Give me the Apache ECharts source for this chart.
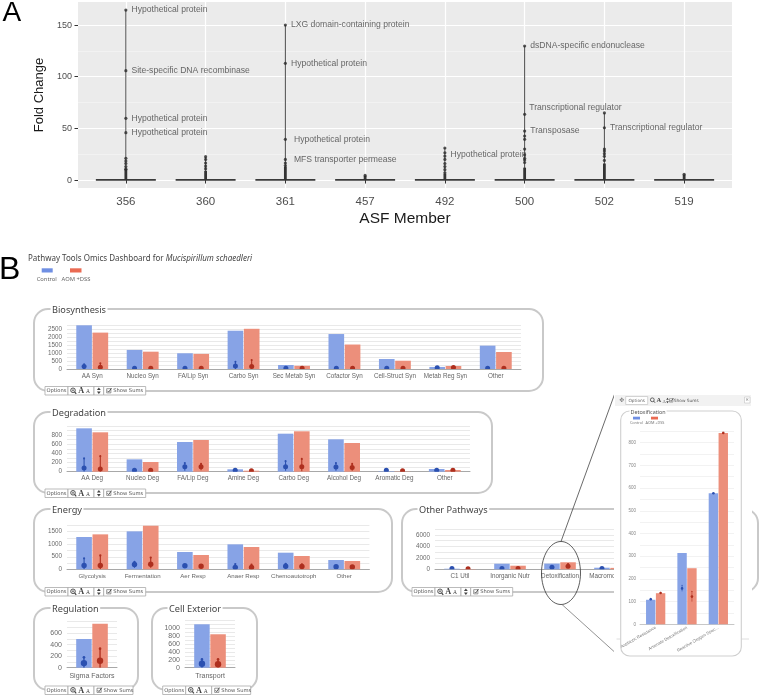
<!DOCTYPE html>
<html>
<head>
<meta charset="utf-8">
<script src="https://cdn.jsdelivr.net/npm/echarts@6.0.0/dist/echarts.min.js"></script>
<style>
html,body{margin:0;padding:0;background:#fff;width:760px;height:697px;overflow:hidden;}
#main{position:absolute;left:0;top:0;width:760px;height:697px;}
#pop{position:absolute;left:614px;top:392px;width:138px;height:266px;background:#fff;}
</style>
</head>
<body>
<div id="main"></div>
<div id="pop"></div>
<script>
// ================= Panel A data =================
const asfMembers = ['356','360','361','457','492','500','502','519'];
const violinMax = [164.5, 22.6, 150, 5, 31, 129.7, 65, 6];
const violinDenseTop = [11, 9, 13, 4, 6, 12, 16, 5];
const outlierPoints = [
  [1,21],[1,18.4],[1,16],[1,13],[1,10.5],
  [2,22.6],[2,20],[2,16.5],[2,13.5],[2,11],
  [3,16.5],[3,14],
  [4,4.5],
  [5,31],[5,26.4],[5,20],[5,16],[5,13],[5,10],[5,7],
  [6,42.6],[6,39.4],[6,30],[6,24.4],[6,21],[6,19.4],[6,17],
  [7,65],[7,30],[7,28],[7,25.5],[7,23],[7,19],
  [8,5.5]
];
const labeledPoints = [
  [1,164.5,'Hypothetical protein'],
  [1,105.8,'Site-specific DNA recombinase'],
  [1,59.7,'Hypothetical protein'],
  [1,45.8,'Hypothetical protein'],
  [3,150,'LXG domain-containing protein'],
  [3,113,'Hypothetical protein'],
  [3,39.4,'Hypothetical protein'],
  [3,20,'MFS transporter permease'],
  [5,23.2,'Hypothetical protein'],
  [6,129.7,'dsDNA-specific endonuclease'],
  [6,63.6,'Transcriptional regulator'],
  [6,47.4,'Transposase'],
  [7,50.6,'Transcriptional regulator']
];
const foldTicks = [0,50,100,150];
const foldMinorTicks = [25,75,125];

// ================= Panel B data =================
const bioCats = ['AA Syn','Nucleo Syn','FA/Lip Syn','Carbo Syn','Sec Metab Syn','Cofactor Syn','Cell-Struct Syn','Metab Reg Syn','Other'];
const bioControl = [2750,1200,990,2410,250,2200,630,130,1470];
const bioAom = [2290,1090,950,2530,200,1540,520,190,1070];
const bioControlDots = [[150,0,300],[50,50,50],[50,50,50],[190,0,460],[50,50,50],[50,50,50],[50,50,50],[80,80,80],[50,50,50]];
const bioAomDots = [[110,0,360],[50,50,50],[50,50,50],[160,0,570],[50,50,50],[50,50,50],[50,50,50],[100,100,100],[50,50,50]];

const degCats = ['AA Deg','Nucleo Deg','FA/Lip Deg','Amine Deg','Carbo Deg','Alcohol Deg','Aromatic Deg','Other'];
const degControl = [947,270,648,52,830,707,10,59];
const degAom = [860,212,692,22,882,627,6,37];
const degControlDots = [[80,0,290],[30,30,30],[110,20,190],[30,30,30],[110,20,230],[100,20,190],[30,30,30],[30,30,30]];
const degAomDots = [[60,0,340],[30,30,30],[110,30,170],[20,20,20],[110,10,280],[90,20,170],[20,20,20],[30,30,30]];

const enCats = ['Glycolysis','Fermentation','Aer Resp','Anaer Resp','Chemoautotroph','Other'];
const enControl = [1287,1513,689,995,662,371];
const enAom = [1393,1737,570,888,530,331];
const enControlDots = [[150,0,440],[190,60,300],[140,140,140],[70,0,210],[120,0,220],[100,100,100]];
const enAomDots = [[150,0,550],[200,60,470],[120,120,120],[70,0,190],[110,0,200],[90,90,90]];

const othCats = ['C1 Util','Inorganic Nutr','Detoxification','Macromol Mod'];
const othControl = [100,980,1000,280];
const othAom = [50,630,1230,250];
const othControlDots = [[150,150,150],[150,150,150],[350,200,500],[150,150,150]];
const othAomDots = [[100,100,100],[150,150,150],[520,200,930],[120,120,120]];

const regCats = ['Sigma Factors'];
const regControl = [497];
const regAom = [761];
const regControlDots = [[80,0,180]];
const regAomDots = [[120,0,330]];

const cellCats = ['Transport'];
const cellControl = [1104];
const cellAom = [850];
const cellControlDots = [[100,0,210]];
const cellAomDots = [[90,0,210]];

const detoxCats = ['Antibiotic Resistance','Arsenate Detoxification','Reactive Oxygen Spec...'];
const detoxControl = [108,314,577];
const detoxAom = [137,247,843];
const detoxControlDots = [[110,106,114],[158,145,172],[577,577,577]];
const detoxAomDots = [[138,135,141],[122,100,145],[843,843,843]];

// ================= styling =================
const FA = 'Liberation Sans, Arial, sans-serif';
const FB = 'Noto Sans, Open Sans, sans-serif';
const CTRL = '#87a3e6', AOM = '#ec8f7b';
const CTRL_SW = '#6f8fe3', AOM_SW = '#ea6b53';
const DOT_C = '#2b50b0', DOT_A = '#ae2f1e';

const grids = [], xAxes = [], yAxes = [], series = [], graphics = [];

// ---------- Panel A ----------
grids.push({left:78, top:2, width:654, height:186, show:true, backgroundColor:'#ebebeb', borderWidth:0, outerBoundsMode:'none'});
const memberPos = asfMembers.map((m,i)=>i+1);
xAxes.push({type:'value', gridIndex:0, min:0.4, max:8.6,
  axisLine:{show:false},
  axisTick:{show:true, customValues:memberPos, length:3.5, lineStyle:{color:'#333', width:1}},
  axisLabel:{show:true, customValues:memberPos, formatter:v=>asfMembers[Math.round(v)-1]||'', fontSize:11.5, color:'#4d4d4d', margin:7.5, fontFamily:FA},
  splitLine:{show:true, lineStyle:{color:'#ffffff', width:1.2}},
  name:'ASF Member', nameLocation:'middle', nameGap:23, nameTextStyle:{fontSize:15.5, color:'#1a1a1a', fontFamily:FA}
});
yAxes.push({type:'value', gridIndex:0, min:-7.7, max:172.3,
  axisLine:{show:false},
  axisTick:{show:true, customValues:foldTicks, length:3.5, lineStyle:{color:'#333', width:1}},
  axisLabel:{show:true, customValues:foldTicks, fontSize:9, color:'#4d4d4d', margin:6, fontFamily:FA},
  splitLine:{show:true, lineStyle:{color:'#ffffff', width:1.2}},
  name:'Fold Change', nameLocation:'middle', nameGap:23, nameTextStyle:{fontSize:13, color:'#1a1a1a', fontFamily:FA}
});
yAxes.push({type:'value', gridIndex:0, min:-7.7, max:172.3,
  axisLine:{show:false},
  axisTick:{show:false, customValues:foldMinorTicks},
  axisLabel:{show:false},
  splitLine:{show:true, lineStyle:{color:'#f7f7f7', width:0.6}}
});

series.push({type:'custom', xAxisIndex:0, yAxisIndex:0, silent:true, z:3,
  data: violinMax.map((m,i)=>[i+1, m, violinDenseTop[i]]),
  renderItem:(params, api)=>{
    const x = api.value(0);
    const p0 = api.coord([x, 0]);
    const pm = api.coord([x, api.value(1)]);
    const pd = api.coord([x, api.value(2)]);
    const b0 = api.coord([x-0.376, 0.9]);
    const b1 = api.coord([x+0.376, -0.7]);
    return {type:'group', children:[
      {type:'rect', shape:{x:b0[0], y:b0[1], width:b1[0]-b0[0], height:b1[1]-b0[1]}, style:{fill:'#3a3a3a'}},
      {type:'line', shape:{x1:p0[0], y1:p0[1], x2:pm[0], y2:pm[1]}, style:{stroke:'#4a4a4a', lineWidth:1}},
      {type:'rect', shape:{x:p0[0]-1.4, y:pd[1], width:2.8, height:p0[1]-pd[1]}, style:{fill:'#333'}}
    ]};
  }
});
series.push({type:'scatter', xAxisIndex:0, yAxisIndex:0, silent:true, z:4,
  data: outlierPoints, symbolSize:3.2, itemStyle:{color:'#2b2b2b'}});
const labelNudge = {6:[3,0], 7:[3,0], 8:[0,-1.8], 10:[-1,-7]};
series.push({type:'scatter', xAxisIndex:0, yAxisIndex:0, silent:true, z:5,
  symbolSize:3.2, itemStyle:{color:'#2b2b2b'},
  data: labeledPoints.map((p,k)=>({value:[p[0],p[1]],
    label:{show:true, position:'right', distance:4, formatter:p[2], offset:labelNudge[k]||[0,0],
      fontSize:8.6, color:'#444', fontFamily:FA}}))
});

// ---------- Panel B helpers ----------
function dotSeries(xi, yi, dots, side, color, offFrac, r){
  return {type:'custom', xAxisIndex:xi, yAxisIndex:yi, silent:true, z:5, clip:true,
    data: dots.map((d,i)=>[i, d[0], d[1], d[2]]),
    renderItem:(params, api)=>{
      const ci = api.value(0);
      const band = api.size([1,0])[0];
      const off = side*band*offFrac;
      const pm = api.coord([ci, api.value(1)]);
      const pl = api.coord([ci, api.value(2)]);
      const ph = api.coord([ci, api.value(3)]);
      const x = pm[0]+off;
      const ch = [];
      if (api.value(3) > api.value(1) || api.value(2) < api.value(1)) {
        ch.push({type:'line', shape:{x1:x, y1:pl[1], x2:x, y2:ph[1]}, style:{stroke:color, lineWidth:Math.max(0.6, r*0.42)}});
      }
      if (api.value(3) > api.value(1)) {
        ch.push({type:'circle', shape:{cx:x, cy:ph[1], r:r*0.42}, style:{fill:color}});
      }
      ch.push({type:'circle', shape:{cx:x, cy:pm[1], r:r}, style:{fill:color}});
      return {type:'group', children:ch};
    }
  };
}

function addPanel(p){
  const gi = grids.length;
  grids.push(Object.assign({show:false, outerBoundsMode:'none'}, p.grid));
  const xi = xAxes.length;
  xAxes.push({type:'category', gridIndex:gi, data:p.cats,
    axisLine:{show:true, lineStyle:{color:'#a8a8a8', width:1}},
    axisTick:{show:false},
    axisLabel:{fontSize:p.catFont, color:'#666', margin:p.catMargin||4, fontFamily:FA, interval:0},
    splitLine:{show:false}});
  const yi = yAxes.length;
  yAxes.push({type:'value', gridIndex:gi, min:0, max:p.max, interval:p.interval,
    axisLine:{show:false}, axisTick:{show:false},
    axisLabel:{fontSize:p.tickFont, color:'#6a6a6a', margin:5, fontFamily:FA,
      formatter:v=>(Math.abs(v % p.labelStep) < 1e-6 && v <= p.labelMax) ? String(v) : ''},
    splitLine:{show:true, lineStyle:{color:'#e3e3e3', width:0.8}}});
  series.push({type:'bar', name:'Control', xAxisIndex:xi, yAxisIndex:yi, data:p.ctrl,
    barWidth:'31%', barGap:'4%', itemStyle:{color:CTRL}, silent:true, z:2});
  series.push({type:'bar', name:'AOM +DSS', xAxisIndex:xi, yAxisIndex:yi, data:p.aom,
    barWidth:'31%', barGap:'4%', itemStyle:{color:AOM}, silent:true, z:2});
  series.push(dotSeries(xi, yi, p.ctrlDots, -1, DOT_C, 0.161, p.dotR));
  series.push(dotSeries(xi, yi, p.aomDots, 1, DOT_A, 0.161, p.dotR));
}

addPanel({cats:bioCats, ctrl:bioControl, aom:bioAom, ctrlDots:bioControlDots, aomDots:bioAomDots,
  grid:{left:67, top:325.3, width:454, height:43.7}, max:2750, interval:250, labelStep:500, labelMax:2500,
  tickFont:6.3, catFont:6.3, dotR:2.5});
addPanel({cats:degCats, ctrl:degControl, aom:degAom, ctrlDots:degControlDots, aomDots:degAomDots,
  grid:{left:67, top:425.9, width:403, height:45.8}, max:1000, interval:100, labelStep:200, labelMax:800,
  tickFont:6.3, catFont:6.3, dotR:2.5});
addPanel({cats:enCats, ctrl:enControl, aom:enAom, ctrlDots:enControlDots, aomDots:enAomDots,
  grid:{left:67, top:525.4, width:302.4, height:43.9}, max:1750, interval:250, labelStep:500, labelMax:1500,
  tickFont:6.3, catFont:6.1, dotR:2.7});
addPanel({cats:othCats, ctrl:othControl, aom:othAom, ctrlDots:othControlDots, aomDots:othAomDots,
  grid:{left:435, top:529.3, width:200, height:40}, max:7000, interval:1000, labelStep:2000, labelMax:6000,
  tickFont:6.3, catFont:6.3, dotR:2.5});
addPanel({cats:regCats, ctrl:regControl, aom:regAom, ctrlDots:regControlDots, aomDots:regAomDots,
  grid:{left:67, top:621.5, width:50, height:46.2}, max:800, interval:100, labelStep:200, labelMax:600,
  tickFont:7, catFont:7, catMargin:5, dotR:3.2});
addPanel({cats:cellCats, ctrl:cellControl, aom:cellAom, ctrlDots:cellControlDots, aomDots:cellAomDots,
  grid:{left:185, top:620.5, width:50, height:47.2}, max:1200, interval:100, labelStep:200, labelMax:1000,
  tickFont:7, catFont:7, catMargin:5, dotR:3.2});

// ---------- graphics ----------
function txt(x, y, text, size, fill, extra){
  return Object.assign({type:'text', x:x, y:y, z:6,
    style:Object.assign({text:text, fontSize:size, fill:fill, fontFamily:FB, verticalAlign:'middle', align:'left'}, (extra&&extra.style)||{})},
    extra&&extra.z!==undefined?{z:extra.z}:{});
}
graphics.push(txt(2.5, 13.5, 'A', 28, '#000', {style:{fontFamily:FA}}));
graphics.push(txt(-1, 270, 'B', 32, '#000', {style:{fontFamily:FA}}));
graphics.push({type:'text', x:28, y:259, z:6, style:{
  text:'{n|Pathway Tools Omics Dashboard for }{i|Mucispirillum schaedleri}',
  verticalAlign:'middle', rich:{n:{fontSize:8, fill:'#444', fontFamily:FB}, i:{fontSize:8, fill:'#444', fontFamily:FB, fontStyle:'italic'}}}});
graphics.push({type:'rect', z:6, shape:{x:41.7, y:268.3, width:11, height:4.2}, style:{fill:CTRL_SW}});
graphics.push({type:'rect', z:6, shape:{x:70, y:268.3, width:11.5, height:4.2}, style:{fill:AOM_SW}});
graphics.push(txt(46.7, 279.5, 'Control', 5.8, '#666', {style:{align:'center'}}));
graphics.push(txt(76, 279.5, 'AOM +DSS', 5.8, '#666', {style:{align:'center'}}));

const frames = [
  {x:34, y:309, w:509, h:82, t:'Biosynthesis', tx:52},
  {x:34, y:412, w:458, h:81, t:'Degradation', tx:52},
  {x:34, y:509, w:358, h:83, t:'Energy', tx:52},
  {x:402, y:509, w:356, h:83, t:'Other Pathways', tx:419},
  {x:34, y:608, w:104, h:82, t:'Regulation', tx:52},
  {x:152, y:608, w:105, h:82, t:'Cell Exterior', tx:169}
];
frames.forEach(f=>{
  graphics.push({type:'rect', z:1, shape:{x:f.x, y:f.y, width:f.w, height:f.h, r:14}, style:{fill:'none', stroke:'#c9c9c9', lineWidth:2}});
  graphics.push({type:'text', x:f.tx-1.5, y:f.y+1, z:6, style:{text:f.t, fontSize:9.2, fill:'#444', fontFamily:FB,
    verticalAlign:'middle', align:'left', backgroundColor:'#fff', padding:[0,1.5,0,1.5]}});
});

function toolbar(x, y, withSort){
  const h = 8.5; let cx = x;
  const box = (w)=>{graphics.push({type:'rect', z:6, shape:{x:cx, y:y, width:w, height:h}, style:{fill:'#fff', stroke:'#a9a9a9', lineWidth:0.8}}); const s = cx; cx += w; return s;};
  let s = box(23);
  graphics.push({type:'text', z:7, x:s+11.5, y:y+h/2, style:{text:'Options', fontSize:5.2, fill:'#555', align:'center', verticalAlign:'middle', fontFamily:'DejaVu Sans'}});
  s = box(26);
  graphics.push({type:'circle', z:7, shape:{cx:s+5, cy:y+3.8, r:2.3}, style:{fill:'none', stroke:'#444', lineWidth:0.9}});
  graphics.push({type:'line', z:7, shape:{x1:s+6.6, y1:y+5.4, x2:s+8.2, y2:y+7.3}, style:{stroke:'#444', lineWidth:1.2}});
  graphics.push({type:'line', z:7, shape:{x1:s+3.8, y1:y+3.8, x2:s+6.2, y2:y+3.8}, style:{stroke:'#444', lineWidth:0.6}});
  graphics.push({type:'line', z:7, shape:{x1:s+5, y1:y+2.6, x2:s+5, y2:y+5}, style:{stroke:'#444', lineWidth:0.6}});
  graphics.push({type:'text', z:7, x:s+10.3, y:y+h/2+0.4, style:{text:'A', fontSize:8.2, fontWeight:'bold', fill:'#444', verticalAlign:'middle', fontFamily:'Liberation Serif, DejaVu Serif, serif'}});
  graphics.push({type:'text', z:7, x:s+18, y:y+h/2+1, style:{text:'A', fontSize:5.5, fill:'#444', verticalAlign:'middle', fontFamily:'Liberation Serif, DejaVu Serif, serif'}});
  if (withSort){
    s = box(9.7);
    const mx = s+4.85, my = y+h/2;
    graphics.push({type:'polygon', z:7, shape:{points:[[mx,my-3.3],[mx-1.9,my-0.7],[mx+1.9,my-0.7]]}, style:{fill:'#444'}});
    graphics.push({type:'polygon', z:7, shape:{points:[[mx,my+3.3],[mx-1.9,my+0.7],[mx+1.9,my+0.7]]}, style:{fill:'#444'}});
  }
  s = box(withSort ? 42 : 39);
  graphics.push({type:'rect', z:7, shape:{x:s+3, y:y+2.2, width:4.2, height:4.2}, style:{fill:'#fff', stroke:'#555', lineWidth:0.6}});
  graphics.push({type:'polyline', z:7, shape:{points:[[s+3.8,y+4.3],[s+5,y+5.6],[s+7.8,y+1.6]]}, style:{stroke:'#333', lineWidth:0.8, fill:'none'}});
  graphics.push({type:'text', z:7, x:s+9.5, y:y+h/2, style:{text:'Show Sums', fontSize:5.2, fill:'#555', verticalAlign:'middle', fontFamily:'DejaVu Sans'}});
}
toolbar(45, 386.5, true);
toolbar(45, 489, true);
toolbar(45, 587.5, true);
toolbar(412, 587.5, true);
toolbar(45, 686, false);
toolbar(162.7, 686, false);

graphics.push({type:'ellipse', z:10, shape:{cx:561, cy:573, rx:19.5, ry:31.5}, style:{fill:'none', stroke:'#333', lineWidth:0.8}});
graphics.push({type:'line', z:10, shape:{x1:561, y1:541.5, x2:615, y2:393}, style:{stroke:'#444', lineWidth:0.8}});
graphics.push({type:'line', z:10, shape:{x1:562, y1:604.5, x2:619, y2:656}, style:{stroke:'#777', lineWidth:0.8}});

const chart = echarts.init(document.getElementById('main'), null, {renderer:'canvas'});
chart.setOption({
  animation:false,
  backgroundColor:'#fff',
  textStyle:{fontFamily:FA},
  grid:grids, xAxis:xAxes, yAxis:yAxes, series:series, graphic:graphics
});

// ================= Detoxification popup =================
const pg = [];
pg.push({type:'rect', z:1, shape:{x:1, y:3, width:136, height:11}, style:{fill:'#f2f2f2'}});
pg.push({type:'text', z:3, x:7.7, y:8.5, style:{text:'✥', fontSize:6, fill:'#777', align:'center', verticalAlign:'middle', fontFamily:'DejaVu Sans'}});
pg.push({type:'rect', z:2, shape:{x:11.7, y:4.5, width:22, height:8}, style:{fill:'#fff', stroke:'#bbb', lineWidth:0.6}});
pg.push({type:'text', z:3, x:22.7, y:8.5, style:{text:'Options', fontSize:4.3, fill:'#666', align:'center', verticalAlign:'middle', fontFamily:'DejaVu Sans'}});
pg.push({type:'circle', z:3, shape:{cx:38.3, cy:7.8, r:1.9}, style:{fill:'none', stroke:'#444', lineWidth:0.8}});
pg.push({type:'line', z:3, shape:{x1:39.6, y1:9.1, x2:41, y2:10.7}, style:{stroke:'#444', lineWidth:1}});
pg.push({type:'text', z:3, x:42.5, y:8.8, style:{text:'A', fontSize:6.5, fontWeight:'bold', fill:'#444', verticalAlign:'middle', fontFamily:'Liberation Serif, serif'}});
pg.push({type:'text', z:3, x:48.5, y:9.3, style:{text:'A', fontSize:4.6, fill:'#444', verticalAlign:'middle', fontFamily:'Liberation Serif, serif'}});
pg.push({type:'polygon', z:3, shape:{points:[[53.5,5.8],[52.2,7.8],[54.8,7.8]]}, style:{fill:'#444'}});
pg.push({type:'polygon', z:3, shape:{points:[[53.5,11.2],[52.2,9.2],[54.8,9.2]]}, style:{fill:'#444'}});
pg.push({type:'rect', z:3, shape:{x:55.5, y:6.7, width:3.4, height:3.4}, style:{fill:'#fff', stroke:'#555', lineWidth:0.5}});
pg.push({type:'polyline', z:3, shape:{points:[[56.1,8.3],[57.1,9.4],[59.4,6.1]]}, style:{stroke:'#333', lineWidth:0.7, fill:'none'}});
pg.push({type:'text', z:3, x:59.8, y:8.5, style:{text:'Show Sums', fontSize:4.3, fill:'#555', verticalAlign:'middle', fontFamily:'DejaVu Sans'}});
pg.push({type:'rect', z:2, shape:{x:130.5, y:5, width:5.5, height:6}, style:{fill:'#fff', stroke:'#bbb', lineWidth:0.5}});
pg.push({type:'text', z:3, x:133.25, y:8, style:{text:'×', fontSize:4.5, fill:'#666', align:'center', verticalAlign:'middle', fontFamily:'DejaVu Sans'}});
pg.push({type:'line', z:0, shape:{x1:2.5, y1:247, x2:6.7, y2:247}, style:{stroke:'#d5d5d5', lineWidth:0.8}});
pg.push({type:'line', z:0, shape:{x1:127.3, y1:247, x2:135, y2:247}, style:{stroke:'#d5d5d5', lineWidth:0.8}});
pg.push({type:'rect', z:1, shape:{x:6.7, y:19, width:120.6, height:245, r:9}, style:{fill:'none', stroke:'#cfcfcf', lineWidth:1.1}});
pg.push({type:'text', z:3, x:15.5, y:20.3, style:{text:'Detoxification', fontSize:5.4, fill:'#555', verticalAlign:'middle', fontFamily:FB, backgroundColor:'#fff', padding:[0,1,0,1]}});
pg.push({type:'rect', z:3, shape:{x:19, y:24.7, width:7, height:2.8}, style:{fill:CTRL_SW}});
pg.push({type:'rect', z:3, shape:{x:37, y:24.7, width:7, height:2.8}, style:{fill:AOM_SW}});
pg.push({type:'text', z:3, x:22.5, y:30.8, style:{text:'Control', fontSize:3.8, fill:'#777', align:'center', verticalAlign:'middle', fontFamily:FB}});
pg.push({type:'text', z:3, x:41, y:30.8, style:{text:'AOM +DSS', fontSize:3.8, fill:'#777', align:'center', verticalAlign:'middle', fontFamily:FB}});

const pop = echarts.init(document.getElementById('pop'), null, {renderer:'canvas'});
pop.setOption({
  animation:false,
  backgroundColor:'#fff',
  grid:{left:26, top:39.3, width:94, height:193, outerBoundsMode:'none'},
  xAxis:{type:'category', data:detoxCats,
    axisLine:{show:true, lineStyle:{color:'#bbb', width:0.8}}, axisTick:{show:false},
    axisLabel:{rotate:30, fontSize:4.3, color:'#777', margin:3, interval:0, fontFamily:FA}},
  yAxis:{type:'value', min:0, max:850, interval:50,
    axisLine:{show:false}, axisTick:{show:false},
    axisLabel:{fontSize:4.5, color:'#888', margin:4, fontFamily:FA,
      formatter:v=>(v % 100 === 0 && v <= 800) ? String(v) : ''},
    splitLine:{show:true, lineStyle:{color:'#e9e9e9', width:0.6}}},
  series:[
    {type:'bar', name:'Control', data:detoxControl, barWidth:'30%', barGap:'5%', itemStyle:{color:CTRL}, silent:true},
    {type:'bar', name:'AOM +DSS', data:detoxAom, barWidth:'30%', barGap:'5%', itemStyle:{color:AOM}, silent:true},
    dotSeries(0, 0, detoxControlDots, -1, DOT_C, 0.1575, 1.3),
    dotSeries(0, 0, detoxAomDots, 1, DOT_A, 0.1575, 1.3)
  ],
  graphic:pg
});
</script>
</body>
</html>
